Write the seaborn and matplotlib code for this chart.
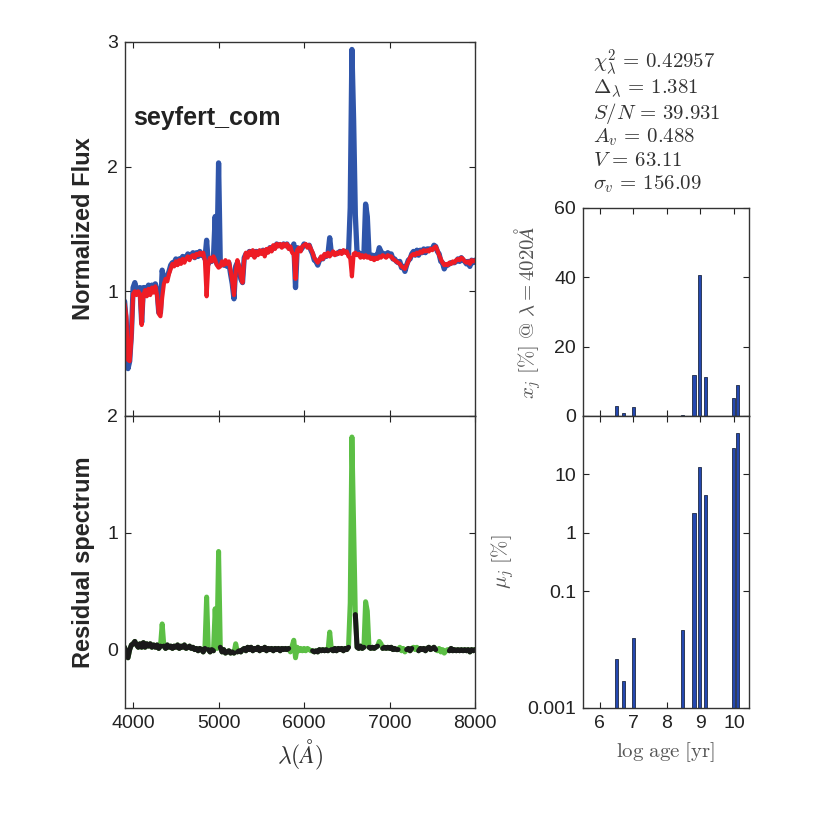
import numpy as np
import seaborn as sns
import matplotlib.pyplot as plt
import pandas as pd
from matplotlib.ticker import NullLocator

# wavelength grid of the spectra (20 A steps)
wave = np.arange(3900, 8001, 20)

# synthetic (model) spectrum
flux_syn = [
    0.90, 0.80, 0.45, 0.44, 0.62, 0.98, 1.00, 0.97, 1.00, 0.98,
    0.73, 0.97, 1.01, 0.96, 1.02, 0.97, 1.03, 0.99, 1.04, 0.97,
    0.82, 0.80, 0.95, 1.06, 1.10, 1.08, 1.14, 1.18, 1.22, 1.20,
    1.24, 1.21, 1.25, 1.22, 1.26, 1.23, 1.26, 1.28, 1.25, 1.28,
    1.29, 1.27, 1.30, 1.29, 1.31, 1.29, 1.31, 1.25, 0.96, 1.22,
    1.27, 1.24, 1.28, 1.25, 1.21, 1.19, 1.20, 1.24, 1.21, 1.25,
    1.22, 1.24, 1.17, 1.08, 0.97, 1.15, 1.25, 1.20, 1.12, 1.07,
    1.26, 1.31, 1.27, 1.32, 1.29, 1.33, 1.27, 1.32, 1.29, 1.33,
    1.30, 1.33, 1.28, 1.34, 1.31, 1.35, 1.32, 1.37, 1.34, 1.38,
    1.36, 1.38, 1.35, 1.38, 1.36, 1.38, 1.34, 1.36, 1.31, 1.30,
    1.10, 1.33, 1.35, 1.32, 1.36, 1.37, 1.38, 1.35, 1.37, 1.34,
    1.31, 1.27, 1.25, 1.23, 1.25, 1.28, 1.26, 1.30, 1.28, 1.31,
    1.28, 1.30, 1.32, 1.29, 1.31, 1.30, 1.32, 1.30, 1.33, 1.31,
    1.32, 1.28, 1.27, 1.12, 1.30, 1.31, 1.29, 1.30, 1.27, 1.29,
    1.27, 1.29, 1.27, 1.28, 1.26, 1.27, 1.25, 1.27, 1.26, 1.28,
    1.27, 1.29, 1.28, 1.27, 1.29, 1.28, 1.28, 1.26, 1.25, 1.24,
    1.23, 1.22, 1.20, 1.19, 1.18, 1.21, 1.24, 1.27, 1.29, 1.30,
    1.29, 1.31, 1.30, 1.32, 1.31, 1.33, 1.32, 1.33, 1.32, 1.34,
    1.33, 1.35, 1.36, 1.33, 1.29, 1.26, 1.23, 1.21, 1.22, 1.21,
    1.23, 1.22, 1.24, 1.23, 1.25, 1.26, 1.25, 1.27, 1.26, 1.24,
    1.23, 1.24, 1.22, 1.25, 1.24, 1.25,
]

flux_obs = [
    0.92, 0.75, 0.38, 0.44, 0.66, 1.03, 1.07, 1.01, 1.02, 1.03,
    0.75, 1.03, 1.03, 1.01, 1.05, 1.02, 1.05, 1.03, 1.06, 1.01,
    0.83, 0.83, 1.17, 1.09, 1.11, 1.12, 1.16, 1.21, 1.23, 1.23,
    1.26, 1.25, 1.26, 1.25, 1.28, 1.27, 1.27, 1.30, 1.28, 1.29,
    1.31, 1.27, 1.31, 1.28, 1.32, 1.29, 1.29, 1.26, 1.41, 1.22,
    1.25, 1.24, 1.27, 1.60, 1.22, 2.03, 1.22, 1.22, 1.21, 1.22,
    1.20, 1.23, 1.14, 1.06, 0.94, 1.20, 1.23, 1.19, 1.10, 1.07,
    1.27, 1.30, 1.29, 1.32, 1.31, 1.32, 1.28, 1.32, 1.31, 1.32,
    1.31, 1.33, 1.30, 1.33, 1.32, 1.35, 1.33, 1.36, 1.35, 1.38,
    1.37, 1.37, 1.36, 1.38, 1.37, 1.38, 1.35, 1.34, 1.34, 1.38,
    1.03, 1.35, 1.34, 1.33, 1.35, 1.38, 1.37, 1.36, 1.37, 1.33,
    1.30, 1.25, 1.24, 1.21, 1.25, 1.27, 1.26, 1.29, 1.28, 1.30,
    1.43, 1.30, 1.31, 1.30, 1.30, 1.31, 1.32, 1.31, 1.32, 1.32,
    1.32, 1.30, 1.67, 2.94, 2.37, 1.61, 1.31, 1.31, 1.30, 1.30,
    1.29, 1.70, 1.60, 1.30, 1.27, 1.29, 1.26, 1.29, 1.29, 1.35,
    1.32, 1.30, 1.30, 1.28, 1.31, 1.29, 1.30, 1.26, 1.26, 1.24,
    1.23, 1.24, 1.19, 1.20, 1.16, 1.21, 1.25, 1.26, 1.30, 1.32,
    1.29, 1.33, 1.29, 1.33, 1.31, 1.34, 1.31, 1.34, 1.34, 1.34,
    1.34, 1.37, 1.36, 1.32, 1.30, 1.24, 1.23, 1.18, 1.21, 1.21,
    1.22, 1.23, 1.23, 1.23, 1.24, 1.26, 1.24, 1.27, 1.25, 1.24,
    1.22, 1.24, 1.20, 1.25, 1.23, 1.25,
]

# residual spectrum
resid = [
    0.02, -0.05, -0.07, 0.00, 0.04, 0.05, 0.07, 0.04, 0.02, 0.05,
    0.02, 0.06, 0.02, 0.05, 0.03, 0.05, 0.02, 0.04, 0.02, 0.04,
    0.01, 0.03, 0.22, 0.03, 0.01, 0.04, 0.02, 0.03, 0.01, 0.03,
    0.02, 0.04, 0.01, 0.03, 0.02, 0.04, 0.01, 0.02, 0.03, 0.01,
    0.02, 0.00, 0.01, -0.01, 0.01, 0.00, -0.02, 0.01, 0.45, 0.00,
    -0.02, 0.00, -0.01, 0.35, 0.01, 0.84, 0.02, -0.02, 0.00, -0.03,
    -0.02, -0.01, -0.03, -0.02, -0.03, 0.05, -0.02, -0.01, -0.02, 0.00,
    0.01, -0.01, 0.02, 0.00, 0.02, -0.01, 0.01, 0.00, 0.02, -0.01,
    0.01, 0.00, 0.02, -0.01, 0.01, 0.00, 0.01, -0.01, 0.01, 0.00,
    0.01, -0.01, 0.01, 0.00, 0.01, 0.00, 0.01, -0.02, 0.03, 0.08,
    -0.07, 0.02, -0.01, 0.01, -0.01, 0.01, -0.01, 0.01, 0.00, -0.01,
    -0.01, -0.02, -0.01, -0.02, 0.00, -0.01, 0.00, -0.01, 0.00, -0.01,
    0.15, 0.00, -0.01, 0.01, -0.01, 0.01, 0.00, 0.01, -0.01, 0.01,
    0.00, 0.02, 0.40, 1.82, 1.07, 0.30, 0.02, 0.01, 0.03, 0.01,
    0.02, 0.41, 0.33, 0.02, 0.01, 0.02, 0.01, 0.02, 0.03, 0.07,
    0.05, 0.01, 0.02, 0.01, 0.02, 0.01, 0.02, 0.00, 0.01, 0.00,
    0.00, 0.02, -0.01, 0.01, -0.02, 0.00, 0.01, -0.01, 0.01, 0.02,
    0.00, 0.02, -0.01, 0.01, 0.00, 0.01, -0.01, 0.01, 0.02, 0.00,
    0.01, 0.02, 0.00, -0.01, 0.01, -0.02, 0.00, -0.03, -0.01, 0.00,
    -0.01, 0.01, -0.01, 0.00, -0.01, 0.00, -0.01, 0.00, -0.01, 0.00,
    -0.01, 0.00, -0.02, 0.00, -0.01, 0.00,
]

# masked windows (shown green only)
masked = [(4330, 4350), (4850, 4870), (4950, 5010), (5190, 5210),
          (5830, 6080), (6290, 6310), (6530, 6590), (6710, 6750),
          (6870, 6910), (7110, 7190), (7270, 7330), (7560, 7690)]

# population vectors
log_age = [6.5, 6.7, 7.0, 8.46, 8.81, 8.96, 9.16, 10.0, 10.11]
x_j = [3.0, 0.8, 2.5, 0.3, 11.8, 40.7, 11.3, 5.1, 8.9]
mu_j = [0.007, 0.0029, 0.016, 0.022, 2.2, 13.4, 4.5, 28.5, 51.0]

fit_info = [r'$\chi^2_\lambda\,=\,0.42957$', r'$\Delta_\lambda\,=\,1.381$',
            r'$S/N\,=\,39.931$', r'$A_v\,=\,0.488$', r'$V\,=\,63.11$',
            r'$\sigma_v\,=\,156.09$']
info_y = [63, 89, 113, 137, 160, 184]

assert len(flux_syn) == len(wave) == len(flux_obs) == len(resid)

df = pd.DataFrame({'wave': wave, 'obs': flux_obs, 'syn': flux_syn, 'res': resid})
fit = df['res'].astype(float).copy()
for lo, hi in masked:
    fit[(df['wave'] >= lo) & (df['wave'] <= hi)] = np.nan

sns.set_style('ticks', {'xtick.direction': 'in', 'ytick.direction': 'in'})
plt.rcParams['font.family'] = ['Liberation Sans', 'DejaVu Sans']
plt.rcParams['mathtext.fontset'] = 'cm'

fig = plt.figure(figsize=(8.34, 8.34), dpi=100)
W, H = 834.0, 834.0


def add_ax(x0, y0, x1, y1):
    return fig.add_axes([x0 / W, 1 - y1 / H, (x1 - x0) / W, (y1 - y0) / H])


ax_spec = add_ax(125, 42, 475, 416)
ax_res = add_ax(125, 416, 475, 708)
ax_xj = add_ax(583, 208, 749, 416)
ax_mu = add_ax(583, 416, 749, 708)

blue, red, green, black = '#2f55aa', '#ee1c25', '#5cbf45', '#1a1a1a'

sns.lineplot(data=df, x='wave', y='obs', ax=ax_spec, color=blue, lw=3.8,
             estimator=None, sort=False)
sns.lineplot(data=df, x='wave', y='syn', ax=ax_spec, color=red, lw=3.0,
             estimator=None, sort=False)
sns.lineplot(data=df, x='wave', y='res', ax=ax_res, color=green, lw=3.6,
             estimator=None, sort=False)
ax_res.plot(df['wave'], fit, color=black, lw=3.6)

bar_face, bar_edge = '#2448b0', '#1e2a44'
ax_xj.bar(log_age, x_j, width=0.09, color=bar_face, edgecolor=bar_edge, lw=0.6)
ax_mu.set_yscale('log')
ax_mu.bar(log_age, mu_j, width=0.09, color=bar_face, edgecolor=bar_edge, lw=0.6)

for ax in (ax_spec, ax_res, ax_xj, ax_mu):
    ax.tick_params(which='both', direction='in', top=True, right=True,
                   length=4, width=0.8, labelsize=14, pad=5, colors='#222222')
    for s in ax.spines.values():
        s.set_color('#333333')
        s.set_linewidth(1.0)
    ax.set_xlabel('')
    ax.set_ylabel('')

ax_spec.set_xlim(3905, 8000)
ax_spec.set_ylim(0, 3)
ax_spec.set_yticks([1, 2, 3])
ax_spec.set_xticks([4000, 5000, 6000, 7000, 8000])
ax_spec.tick_params(labelbottom=False)
ax_spec.set_ylabel('Normalized Flux', fontsize=17, fontweight='bold', labelpad=9)
ax_spec.text(0.023, 0.797, 'seyfert_com', transform=ax_spec.transAxes,
             fontsize=18, fontweight='bold', va='center', color='#222222')

ax_res.set_xlim(3905, 8000)
ax_res.set_ylim(-0.5, 2)
ax_res.set_yticks([0, 1, 2])
ax_res.set_xticks([4000, 5000, 6000, 7000, 8000])
ax_res.set_ylabel('Residual spectrum', fontsize=17, fontweight='bold', labelpad=9)
ax_res.set_xlabel(r'$\lambda(\AA)$', fontsize=17, color='#333333', labelpad=4)

for ax in (ax_xj, ax_mu):
    ax.set_xlim(5.5, 10.45)
    ax.set_xticks([6, 7, 8, 9, 10])
ax_xj.set_ylim(0, 60)
ax_xj.set_yticks([0, 20, 40, 60])
ax_xj.tick_params(labelbottom=False)
ax_xj.set_ylabel(r'$x_j\ [\%]\ @\ \lambda = 4020\AA$', fontsize=15,
                 color='#555555', labelpad=8)

ax_mu.set_ylim(1e-3, 100)
ax_mu.set_yticks([0.001, 0.1, 1, 10])
ax_mu.set_yticklabels(['0.001', '0.1', '1', '10'])
ax_mu.yaxis.set_minor_locator(NullLocator())
ax_mu.set_ylabel(r'$\mu_j\ [\%]$', fontsize=15, color='#555555', labelpad=8)
ax_mu.set_xlabel(r'$\mathrm{log\ age\ [yr]}$', fontsize=15, color='#555555', labelpad=6)

for txt, yy in zip(fit_info, info_y):
    fig.text(593 / W, 1 - yy / H, txt, fontsize=15,
             va='center', ha='left', color='#333333')

fig.savefig('out.png', dpi=100)
